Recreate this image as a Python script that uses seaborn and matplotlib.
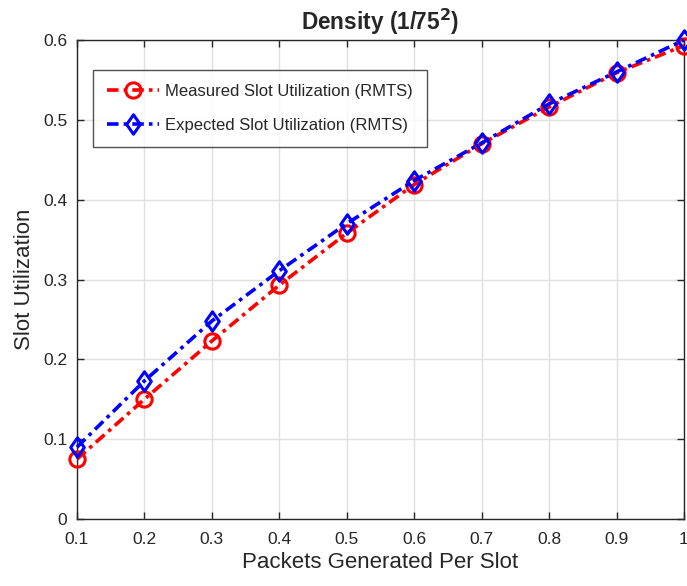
import matplotlib
matplotlib.use("Agg")
import matplotlib.pyplot as plt
import seaborn as sns
import pandas as pd
import numpy as np
from matplotlib.path import Path

x_vals = [0.1, 0.2, 0.3, 0.4, 0.5, 0.6, 0.7, 0.8, 0.9, 1.0]
measured = [0.075, 0.150, 0.223, 0.293, 0.358, 0.419, 0.470, 0.516, 0.559, 0.593]
expected = [0.090, 0.173, 0.248, 0.311, 0.370, 0.424, 0.471, 0.520, 0.560, 0.600]
x_ticks = [0.1, 0.2, 0.3, 0.4, 0.5, 0.6, 0.7, 0.8, 0.9, 1.0]
x_tick_labels = ["0.1", "0.2", "0.3", "0.4", "0.5", "0.6", "0.7", "0.8", "0.9", "1"]
y_ticks = [0, 0.1, 0.2, 0.3, 0.4, 0.5, 0.6]
y_tick_labels = ["0", "0.1", "0.2", "0.3", "0.4", "0.5", "0.6"]

sns.set_style("white")
plt.rcParams['font.family'] = ['Liberation Sans', 'DejaVu Sans']

fig = plt.figure(figsize=(6.87, 5.86), dpi=100)
ax = fig.add_axes([0.112, 0.1143, 0.8836, 0.8174])

df_m = pd.DataFrame({"x": x_vals, "y": measured})
df_e = pd.DataFrame({"x": x_vals, "y": expected})

diamond = Path([(0, 1), (0.7, 0), (0, -1), (-0.7, 0), (0, 1)],
               [Path.MOVETO, Path.LINETO, Path.LINETO, Path.LINETO, Path.CLOSEPOLY])

dash = (0, (3.2, 1.4, 1.0, 1.4))
sns.lineplot(data=df_m, x="x", y="y", ax=ax, color="#ff0000", linestyle=dash,
             linewidth=2.6, marker="o", markersize=11, markerfacecolor="none",
             markeredgecolor="#ff0000", markeredgewidth=2.2,
             label="Measured Slot Utilization (RMTS)", clip_on=False, zorder=3)
sns.lineplot(data=df_e, x="x", y="y", ax=ax, color="#0000ff", linestyle=dash,
             linewidth=2.6, marker=diamond, markersize=14, markerfacecolor="none",
             markeredgecolor="#0000ff", markeredgewidth=2.2,
             label="Expected Slot Utilization (RMTS)", clip_on=False, zorder=4)

ax.set_xlim(0.1, 1.0)
ax.set_ylim(0, 0.6)
ax.set_xticks(x_ticks)
ax.set_xticklabels(x_tick_labels)
ax.set_yticks(y_ticks)
ax.set_yticklabels(y_tick_labels)
ax.grid(True, color="#e0e0e0", linewidth=1)
ax.set_axisbelow(True)
for s in ax.spines.values():
    s.set_color("#262626")
    s.set_linewidth(1)
ax.tick_params(axis="both", which="both", direction="in", length=5, width=1,
               colors="#262626", labelsize=12.5, labelcolor="#262626",
               top=True, right=True, bottom=True, left=True)
ax.tick_params(axis="x", pad=9)
ax.tick_params(axis="y", pad=7)

ax.set_xlabel("Packets Generated Per Slot", fontsize=16, color="#262626", labelpad=4)
ax.set_ylabel("Slot Utilization", fontsize=16, color="#262626", labelpad=6)
ax.set_title("Density (1/75$^\\mathbf{2}$)", fontsize=16.3, fontweight="bold", pad=7)

leg = ax.legend(loc="upper left", bbox_to_anchor=(0.0264, 0.9374), borderaxespad=0,
                fontsize=12, frameon=True, fancybox=False, edgecolor="#262626",
                handlelength=3.1, borderpad=0.85, labelspacing=1.1,
                handletextpad=0.35)
leg.get_frame().set_linewidth(1)

fig.savefig("out.png", dpi=100)
